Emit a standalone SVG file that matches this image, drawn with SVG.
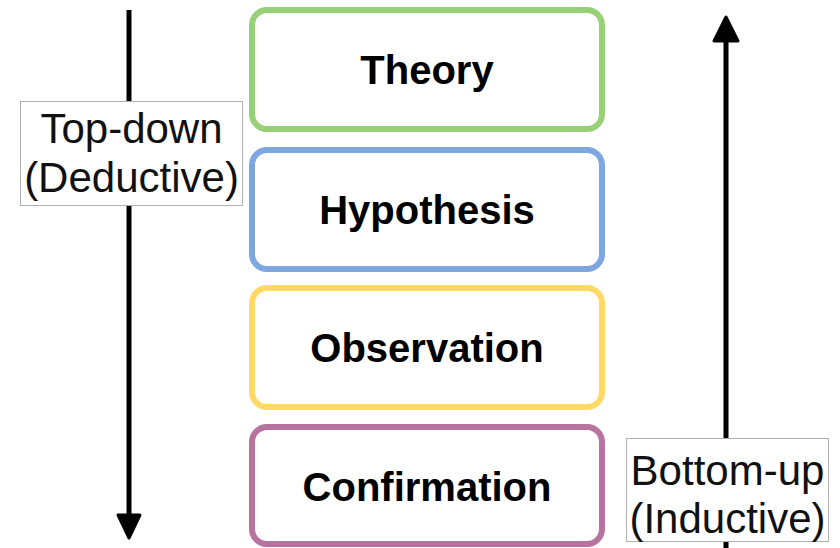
<svg xmlns="http://www.w3.org/2000/svg" width="840" height="548" viewBox="0 0 840 548">
<style>
.box{fill:#ffffff;stroke-width:6;stroke-linejoin:round}
.t{font-family:"Liberation Sans",Arial,sans-serif;font-weight:bold;font-size:40px;fill:#000;text-anchor:middle}
.lbl{font-family:"Liberation Sans",Arial,sans-serif;font-size:42px;fill:#111;text-anchor:middle}
.lblbox{fill:#ffffff;stroke:#b0b0b0;stroke-width:1}
.ln{stroke:#000;stroke-width:5;fill:none}
.ah{fill:#000;stroke:#000;stroke-width:3;stroke-linejoin:round}
</style>
<rect width="840" height="548" fill="#ffffff"/>
<g id="connectors">
  <g id="top-down-arrow">
    <line class="ln" x1="129" y1="10" x2="129" y2="520"/>
    <polygon class="ah" points="118,515 140,515 129,538"/>
  </g>
  <g id="bottom-up-arrow">
    <line class="ln" x1="726" y1="548" x2="726" y2="38"/>
    <polygon class="ah" points="714,41 738,41 726,17"/>
  </g>
</g>
<g id="label-topdown">
  <rect class="lblbox" x="20.5" y="101.5" width="222" height="104"/>
  <text class="lbl" x="131.5" y="143">Top-down</text>
  <text class="lbl" x="131.5" y="192">(Deductive)</text>
</g>
<g id="label-bottomup">
  <rect class="lblbox" x="626.5" y="438.5" width="202" height="103"/>
  <text class="lbl" x="727.5" y="485">Bottom-up</text>
  <text class="lbl" x="727.5" y="533">(Inductive)</text>
</g>
<g id="theory">
  <rect class="box" x="252" y="10" width="350" height="119" rx="15" stroke="#97D077"/>
  <text class="t" x="427" y="84">Theory</text>
</g>
<g id="hypothesis">
  <rect class="box" x="252" y="150" width="350" height="119" rx="15" stroke="#7EA6E0"/>
  <text class="t" x="427" y="224">Hypothesis</text>
</g>
<g id="observation">
  <rect class="box" x="252" y="288" width="350" height="119" rx="15" stroke="#FFD966"/>
  <text class="t" x="427" y="362">Observation</text>
</g>
<g id="confirmation">
  <rect class="box" x="252" y="427" width="350" height="117" rx="15" stroke="#B5739D"/>
  <text class="t" x="427" y="501">Confirmation</text>
</g>
</svg>
